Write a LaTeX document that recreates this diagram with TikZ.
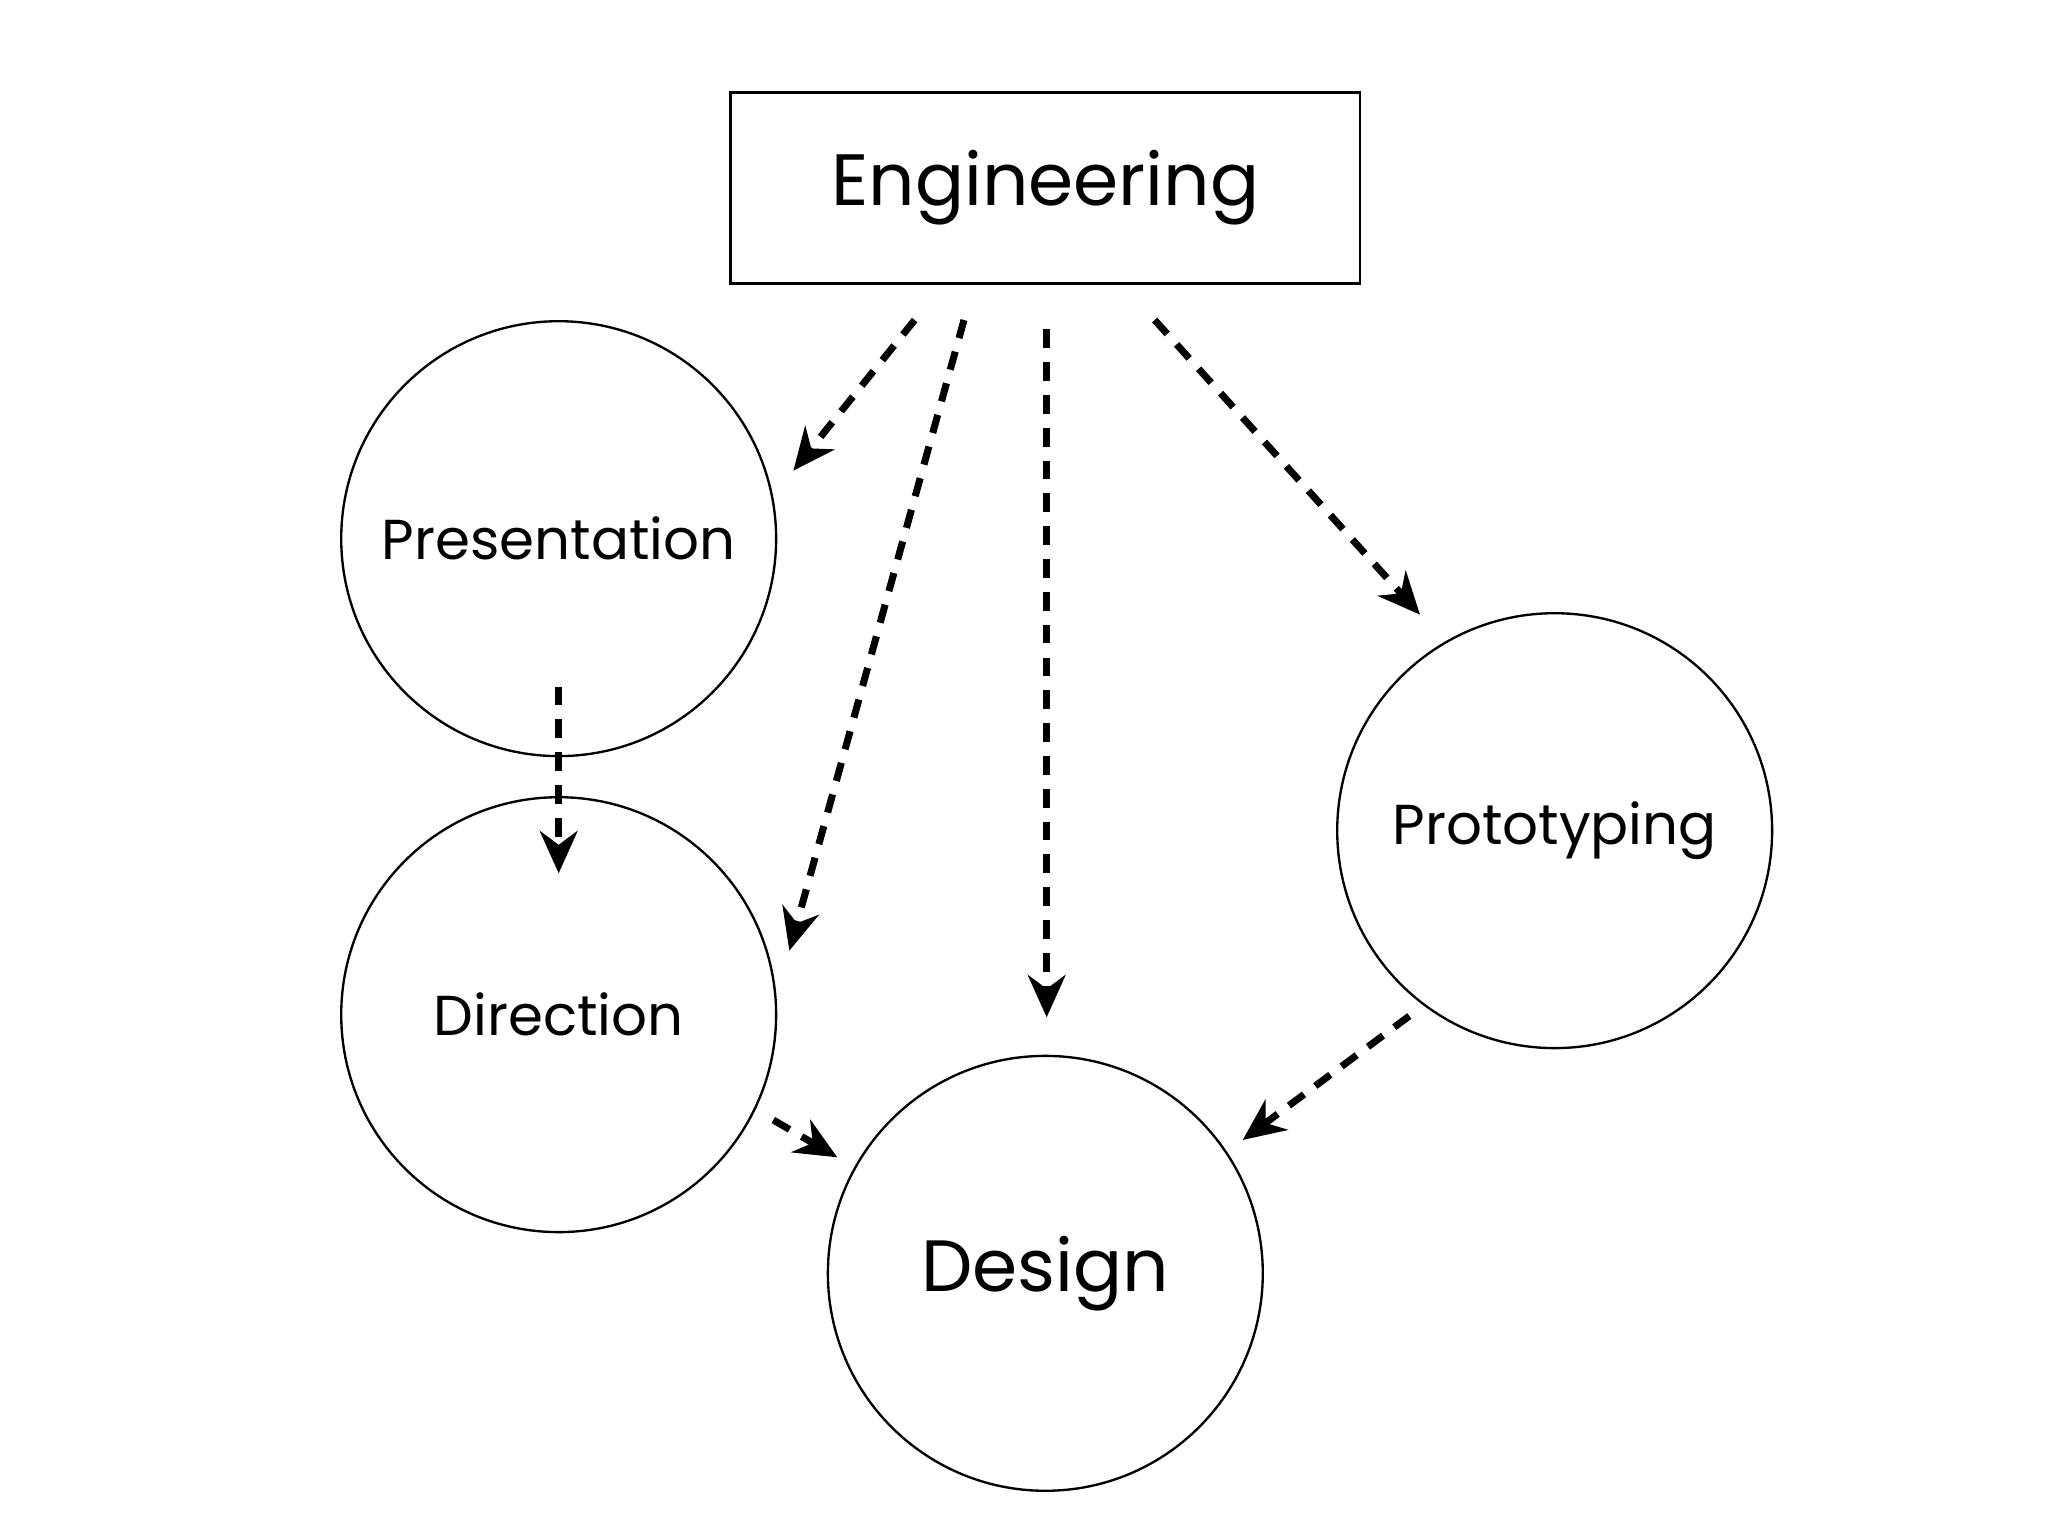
\documentclass[tikz,border=0pt]{standalone}
\usepackage{fontspec}
\setmainfont{Poppins}
\usetikzlibrary{arrows.meta}
\begin{document}
\begin{tikzpicture}[x=0.01cm,y=-0.01cm,
  circ/.style={draw,circle,inner sep=0pt,line width=0.5pt,minimum size=3.26cm},
  arr/.style={line width=1.5pt,dash pattern=on 4pt off 3pt,-{Stealth[length=9pt,width=8pt]}},
  lbl/.style={font=\fontsize{12}{14}\selectfont}]
\useasboundingbox (0,0) rectangle (1536,1152);
\node[draw,line width=0.5pt,minimum width=4.72cm,minimum height=1.43cm,font=\fontsize{15.5}{18}\selectfont] (eng) at (784,141) {Engineering};
\node[circ,lbl] (pres) at (419,404) {Presentation};
\node[circ,lbl] (dir) at (419,761) {Direction};
\node[circ,font=\fontsize{15.5}{18}\selectfont] (des) at (784,955) {Design};
\node[circ,lbl] (proto) at (1166,623) {Prototyping};
\coordinate (a1) at (686,240); \coordinate (b1) at (595,353);
\coordinate (a2) at (723,240); \coordinate (b2) at (592,713);
\coordinate (a3) at (785,247); \coordinate (b3) at (785,763);
\coordinate (a4) at (866,240); \coordinate (b4) at (1065,461);
\coordinate (a5) at (419,515); \coordinate (b5) at (419,655);
\coordinate (a6) at (580,840); \coordinate (b6) at (628,868);
\coordinate (a7) at (1057,762); \coordinate (b7) at (932,855);
\foreach \i in {1,...,7} \draw[arr] (a\i) -- (b\i);
\end{tikzpicture}
\end{document}
